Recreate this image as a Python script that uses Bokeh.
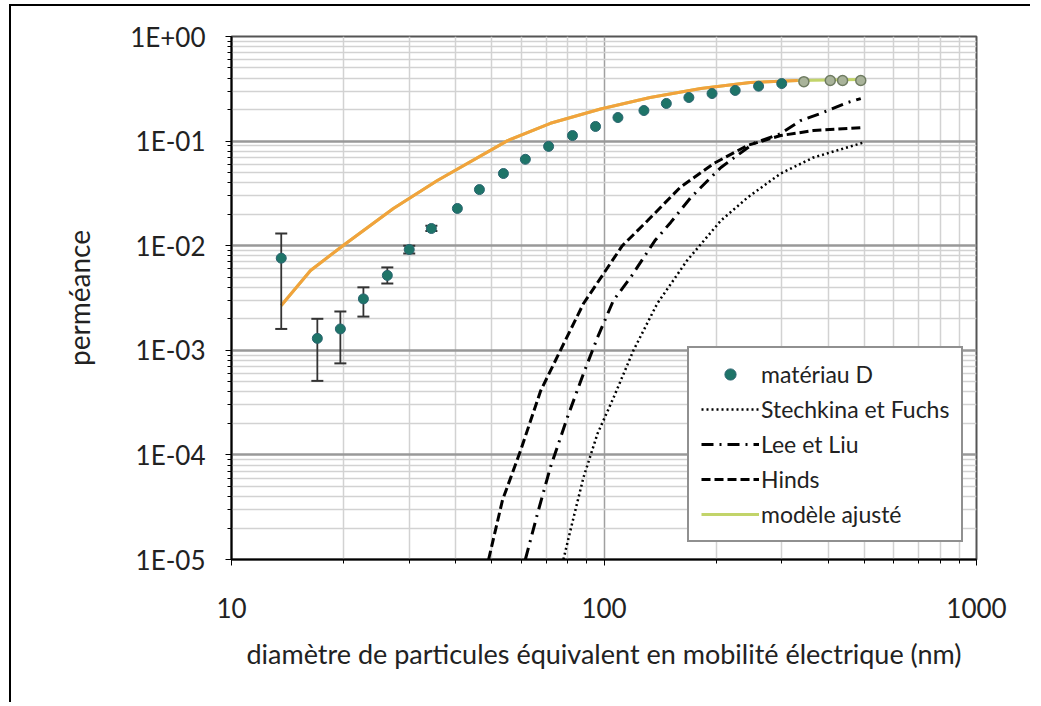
from bokeh.plotting import figure
from bokeh.models import (Legend, LegendItem, FixedTicker, CustomJSTickFormatter, Range1d)
from bokeh.embed import file_html
from bokeh.resources import INLINE

# ---- data ----
d_mes = [13.6, 17.0, 19.6, 22.6, 26.2, 30.0, 34.4, 40.4, 46.3, 53.7, 61.5, 71.0, 82.3,
         94.9, 109, 128, 147, 169, 195, 225, 260, 300, 344, 405, 437, 489]
p_mes = [7.6e-3, 1.3e-3, 1.6e-3, 3.1e-3, 5.2e-3, 9.2e-3, 1.46e-2, 2.27e-2, 3.44e-2, 4.9e-2,
         6.7e-2, 8.9e-2, 0.113, 0.138, 0.168, 0.196, 0.229, 0.261, 0.285, 0.305, 0.335,
         0.355, 0.37, 0.38, 0.38, 0.38]

err_d = [13.6, 17.0, 19.6, 22.6, 26.2, 30.0, 34.4]
err_hi = [1.31e-2, 2.0e-3, 2.35e-3, 4.0e-3, 6.2e-3, 1.0e-2, 1.55e-2]
err_lo = [1.6e-3, 5.1e-4, 7.5e-4, 2.1e-3, 4.35e-3, 8.4e-3, 1.38e-2]

d_fit = [13.6, 14.1, 16.3, 19.9, 27.2, 35.7, 55.1, 71.8, 97.9, 133, 182, 247, 331, 489]
p_fit = [2.68e-3, 3.13e-3, 5.8e-3, 1.0e-2, 2.27e-2, 4.2e-2, 0.101, 0.148, 0.203, 0.261,
         0.318, 0.363, 0.38, 0.388]

d_sf = [77.8, 82.8, 88.1, 96.1, 106, 120, 139, 167, 206, 243, 298, 365, 498]
p_sf = [1e-5, 2.5e-5, 6.1e-5, 1.6e-4, 3.5e-4, 1.0e-3, 2.8e-3, 7.2e-3, 1.74e-2, 2.89e-2,
        4.9e-2, 6.97e-2, 9.7e-2]

d_ll = [61.5, 66.3, 71.8, 79.8, 88.1, 96.1, 106, 118, 137, 151, 171, 206, 252, 298, 337,
        388, 451, 489]
p_ll = [1e-5, 2.75e-5, 7.6e-5, 2.3e-4, 6.0e-4, 1.33e-3, 3.0e-3, 5.0e-3, 1.12e-2, 1.67e-2,
        2.89e-2, 5.6e-2, 9.5e-2, 0.118, 0.157, 0.188, 0.234, 0.255]

d_hi = [49.0, 53.4, 59.7, 67.6, 76.4, 88.1, 99.7, 112, 131, 160, 197, 243, 298, 365, 498]
p_hi = [1e-5, 3.7e-5, 1.1e-4, 4.1e-4, 1.0e-3, 2.8e-3, 5.4e-3, 1.0e-2, 1.74e-2, 3.6e-2,
        6.1e-2, 9.1e-2, 0.113, 0.126, 0.135]

x_major = [10, 100, 1000]
y_major = [1e-5, 1e-4, 1e-3, 1e-2, 1e-1, 1.0]

labels = ["matériau D", "Stechkina et Fuchs", "Lee et Liu", "Hinds", "modèle ajusté"]
x_title = "diamètre de particules équivalent en mobilité électrique (nm)"
y_title = "perméance"

FONT = "Lato"
TXT = "#222222"

p = figure(width=1021, height=698, x_axis_type="log", y_axis_type="log",
           x_range=Range1d(10, 1000), y_range=Range1d(1e-5, 1.0),
           output_backend="svg", toolbar_location=None,
           min_border_left=220, min_border_top=30, min_border_right=56, min_border_bottom=145)
p.styles = {"border-top": "2px solid #000", "border-left": "2px solid #000",
            "margin-left": "9px", "margin-top": "4px"}
p.background_fill_color = "white"
p.border_fill_color = "white"
p.outline_line_color = "#555555"
p.outline_line_width = 2

x_minor = [m * 10 ** k for k in (1, 2) for m in range(2, 10)]
y_minor = [m * 10.0 ** k for k in range(-5, 0) for m in range(2, 10)]
p.xaxis.ticker = FixedTicker(ticks=x_major, minor_ticks=x_minor)
p.yaxis.ticker = FixedTicker(ticks=y_major, minor_ticks=y_minor)
p.xaxis.formatter = CustomJSTickFormatter(code="return Math.round(tick).toString();")
p.yaxis.formatter = CustomJSTickFormatter(code="""
const e = Math.round(Math.log10(tick));
const s = e < 0 ? '-' : '+';
const a = Math.abs(e);
return '1E' + s + (a < 10 ? '0' : '') + a;
""")

for ax in (p.xaxis, p.yaxis):
    ax.axis_line_color = "black"
    ax.axis_line_width = 2
    ax.major_tick_line_color = "black"
    ax.minor_tick_line_color = "black"
    ax.major_tick_out = 6
    ax.major_tick_in = 0
    ax.minor_tick_out = 4
    ax.minor_tick_in = 0
    ax.major_label_text_font = FONT
    ax.major_label_text_font_size = "26px"
    ax.major_label_text_color = TXT
    ax.axis_label_text_font = FONT
    ax.axis_label_text_font_style = "normal"
    ax.axis_label_text_color = TXT

p.yaxis.major_label_standoff = 20
p.xaxis.major_label_standoff = 32
p.xaxis.axis_label = x_title
p.yaxis.axis_label = y_title
p.xaxis.axis_label_text_font_size = "27px"
p.yaxis.axis_label_text_font_size = "28px"
p.xaxis.axis_label_standoff = 16
p.yaxis.axis_label_standoff = 31

p.xgrid.grid_line_color = "#a0a0a0"
p.xgrid.grid_line_width = 1.5
p.xgrid.minor_grid_line_color = "#d2d2d2"
p.xgrid.minor_grid_line_width = 1.5
p.ygrid.grid_line_color = "#999999"
p.ygrid.grid_line_width = 2.5
p.ygrid.minor_grid_line_color = "#d2d2d2"
p.ygrid.minor_grid_line_width = 1.5

# model curve (legend swatch is yellow-green, curve mostly orange)
r_fit = p.line(d_fit, p_fit, line_color="#c2d46a", line_width=3)
p.line(d_fit[:-1], p_fit[:-1], line_color="#f2a23c", line_width=3)

r_sf = p.line(d_sf, p_sf, line_color="black", line_width=2.5, line_dash="2 3")
r_ll = p.line(d_ll, p_ll, line_color="black", line_width=3, line_dash="12 6 2 6")
r_hi = p.line(d_hi, p_hi, line_color="black", line_width=3, line_dash="9 4")

# error bars
p.segment(x0=err_d, y0=err_lo, x1=err_d, y1=err_hi, line_color="#333333", line_width=1.8)
p.scatter(err_d, err_hi, marker="dash", size=12, line_color="#333333", line_width=2)
p.scatter(err_d, err_lo, marker="dash", size=12, line_color="#333333", line_width=2)

# measured points
r_pts = p.scatter(d_mes[:-4], p_mes[:-4], size=10, fill_color="#1e7468",
                  line_color="#2a6470", line_width=1)
p.scatter(d_mes[-4:], p_mes[-4:], size=10, marker="circle", fill_color="#a9b39a",
          line_color="#6f7c62", line_width=1.5)

legend = Legend(items=[
    LegendItem(label=labels[0], renderers=[r_pts]),
    LegendItem(label=labels[1], renderers=[r_sf]),
    LegendItem(label=labels[2], renderers=[r_ll]),
    LegendItem(label=labels[3], renderers=[r_hi]),
    LegendItem(label=labels[4], renderers=[r_fit]),
], location=(456, 17))
legend.border_line_color = "#222222"
legend.border_line_width = 2
legend.background_fill_color = "white"
legend.background_fill_alpha = 1
legend.glyph_width = 58
legend.glyph_height = 28
legend.label_standoff = 2
legend.spacing = 7
legend.padding = 12
legend.margin = 0
legend.label_text_font = FONT
legend.label_text_font_size = "23px"
legend.label_text_color = TXT
p.add_layout(legend, "center")

open("out.html", "w").write(file_html(p, INLINE))
